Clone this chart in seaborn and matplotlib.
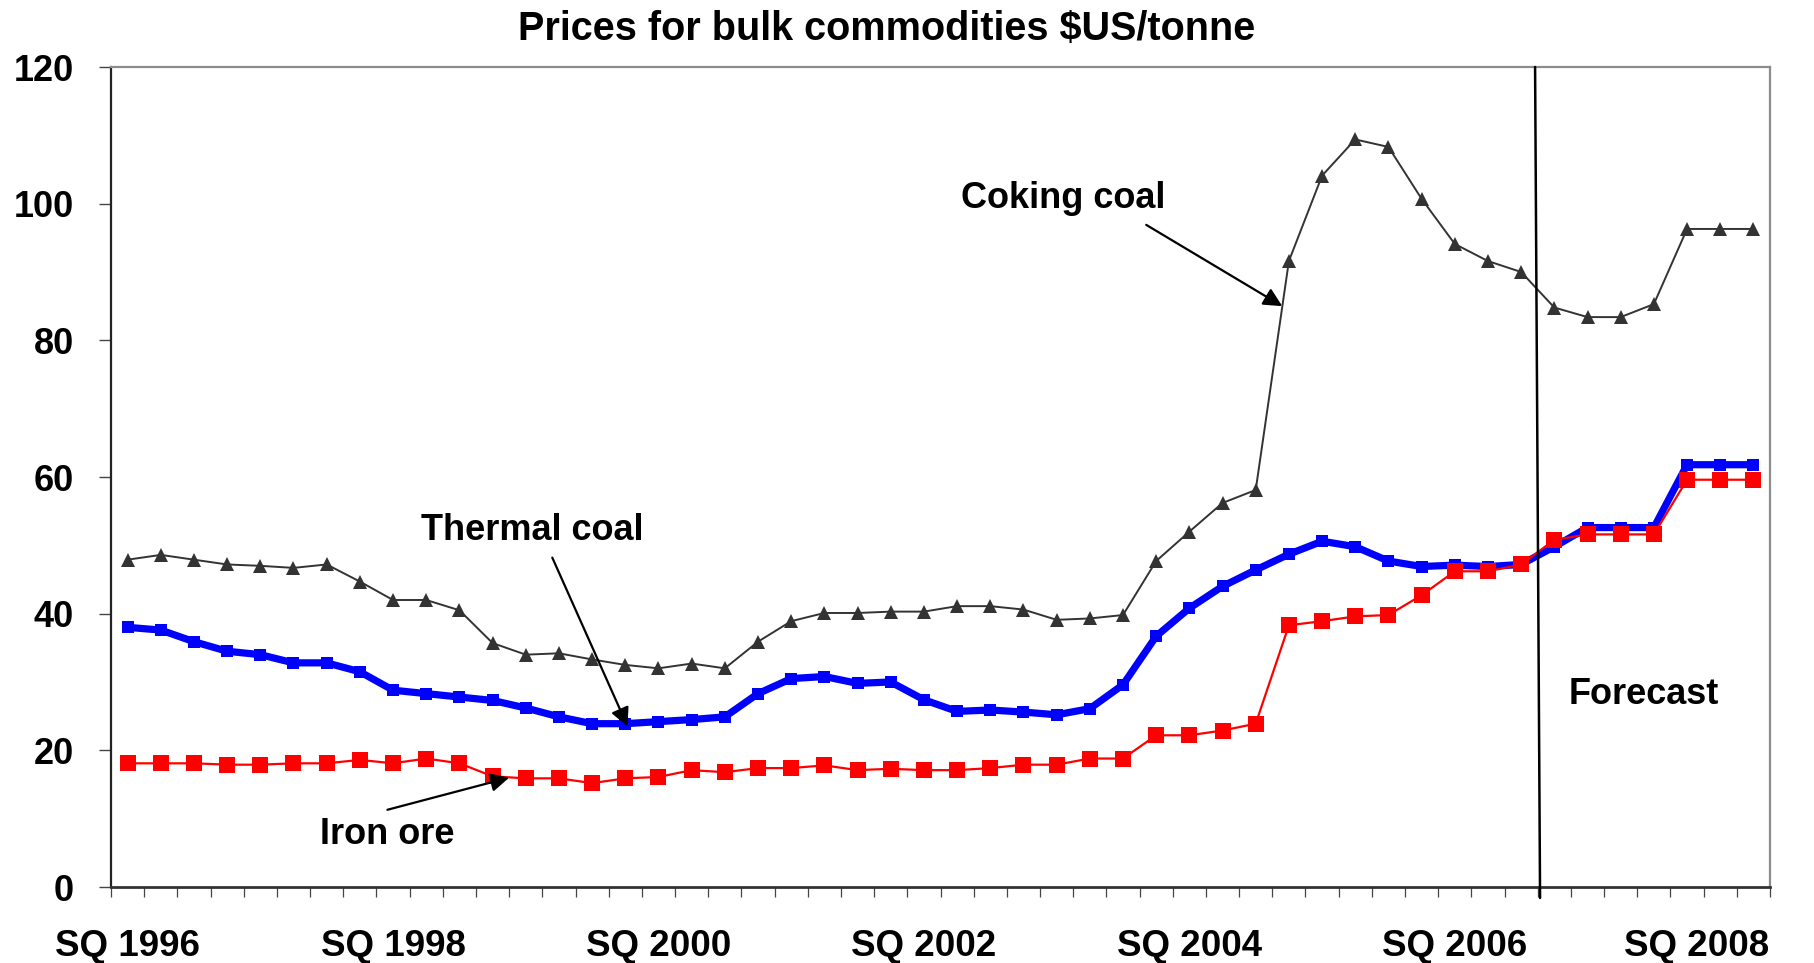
import matplotlib
matplotlib.use("Agg")
import matplotlib.pyplot as plt
import matplotlib.transforms as mtransforms
import seaborn as sns
import pandas as pd
import numpy as np

# ---------------- data ----------------
quarters = [
    "SQ 1996", "DQ 1996", "MQ 1997", "JQ 1997", "SQ 1997", "DQ 1997", "MQ 1998", "JQ 1998",
    "SQ 1998", "DQ 1998", "MQ 1999", "JQ 1999", "SQ 1999", "DQ 1999", "MQ 2000", "JQ 2000",
    "SQ 2000", "DQ 2000", "MQ 2001", "JQ 2001", "SQ 2001", "DQ 2001", "MQ 2002", "JQ 2002",
    "SQ 2002", "DQ 2002", "MQ 2003", "JQ 2003", "SQ 2003", "DQ 2003", "MQ 2004", "JQ 2004",
    "SQ 2004", "DQ 2004", "MQ 2005", "JQ 2005", "SQ 2005", "DQ 2005", "MQ 2006", "JQ 2006",
    "SQ 2006", "DQ 2006", "MQ 2007", "JQ 2007", "SQ 2007", "DQ 2007", "MQ 2008", "JQ 2008",
    "SQ 2008", "DQ 2008",
]

coking_coal = [
    47.9, 48.6, 47.9, 47.2, 47.0, 46.7, 47.2, 44.7, 42.0, 42.0,
    40.5, 35.7, 34.0, 34.2, 33.3, 32.5, 32.0, 32.7, 32.0, 35.9,
    38.9, 40.1, 40.1, 40.3, 40.3, 41.1, 41.1, 40.6, 39.1, 39.3,
    39.8, 47.7, 52.0, 56.2, 58.1, 91.6, 104.1, 109.4, 108.3, 100.7,
    94.1, 91.6, 90.0, 84.8, 83.4, 83.4, 85.3, 96.3, 96.3, 96.3,
]

thermal_coal = [
    38.0, 37.6, 35.9, 34.5, 34.0, 32.8, 32.8, 31.5, 28.8, 28.3,
    27.8, 27.3, 26.2, 24.9, 23.9, 23.9, 24.2, 24.5, 24.9, 28.3,
    30.5, 30.8, 29.8, 30.0, 27.4, 25.7, 25.9, 25.6, 25.2, 26.1,
    29.6, 36.7, 40.8, 44.0, 46.4, 48.7, 50.6, 49.8, 47.7, 46.9,
    47.1, 46.9, 47.2, 49.8, 52.6, 52.6, 52.6, 61.8, 61.8, 61.8,
]

iron_ore = [
    18.1, 18.1, 18.1, 17.9, 17.9, 18.1, 18.1, 18.6, 18.1, 18.8,
    18.1, 16.2, 15.9, 15.9, 15.2, 15.9, 16.1, 17.1, 16.8, 17.4,
    17.4, 17.8, 17.1, 17.3, 17.1, 17.1, 17.4, 17.9, 17.9, 18.8,
    18.8, 22.2, 22.2, 22.9, 23.9, 38.3, 38.9, 39.6, 39.8, 42.7,
    46.2, 46.2, 47.2, 50.8, 51.6, 51.6, 51.6, 59.6, 59.6, 59.6,
]

label_quarters = ["SQ 1996", "SQ 1998", "SQ 2000", "SQ 2002", "SQ 2004", "SQ 2006", "SQ 2008"]
y_ticks = [0, 20, 40, 60, 80, 100, 120]

title = "Prices for bulk commodities $US/tonne"

# ---------------- frame ----------------
pos = list(range(len(quarters)))
df = pd.DataFrame({
    "pos": pos,
    "quarter": quarters,
    "Coking coal": coking_coal,
    "Thermal coal": thermal_coal,
    "Iron ore": iron_ore,
})

sns.set_style("ticks")
plt.rcParams["font.family"] = ["Liberation Sans", "DejaVu Sans"]
plt.rcParams["font.weight"] = "bold"
plt.rcParams["text.color"] = "black"
plt.rcParams["xtick.color"] = "black"
plt.rcParams["ytick.color"] = "black"
plt.rcParams["xtick.labelcolor"] = "black"
plt.rcParams["ytick.labelcolor"] = "black"

W, H = 1814, 963
fig = plt.figure(figsize=(W / 100, H / 100), dpi=100)
ax = fig.add_axes([111 / W, 1 - 887 / H, (1770 - 111) / W, (887 - 67) / H])

sns.lineplot(data=df, x="pos", y="Thermal coal", ax=ax, color="#0000FF", lw=5.2,
             marker="s", markersize=9, markeredgewidth=0, zorder=3)
sns.lineplot(data=df, x="pos", y="Iron ore", ax=ax, color="#FF0000", lw=1.6,
             marker="s", markersize=11.5, markeredgewidth=0, zorder=4)
sns.lineplot(data=df, x="pos", y="Coking coal", ax=ax, color="#333333", lw=1.4,
             marker="^", markersize=9.5, markeredgewidth=0, zorder=5)

ax.set_xlim(-0.5, len(quarters) - 0.5)
ax.set_ylim(0, 120)
ax.set_xlabel("")
ax.set_ylabel("")

# y axis
ax.set_yticks(y_ticks)
ax.set_yticklabels([str(v) for v in y_ticks])
ax.tick_params(axis="y", which="major", length=8.6, width=1.0, pad=18,
               labelsize=26, color="#444444", labelcolor="black", direction="out")

# x axis: ticks at category boundaries, labels at SQ quarters
ax.set_xticks(np.arange(-0.5, len(quarters), 1.0))
ax.set_xticklabels([])
label_pos = [quarters.index(q) for q in label_quarters]
ax.set_xticks(label_pos, minor=True)
ax.set_xticklabels(label_quarters, minor=True)
ax.tick_params(axis="x", which="major", length=7.5, width=0.9, color="#444444", direction="out")
ax.tick_params(axis="x", which="minor", length=0, pad=30, labelsize=26.5, labelcolor="black")
for lab in ax.get_xticklabels(minor=True) + ax.get_yticklabels():
    lab.set_fontweight("bold")

for side in ["top", "right"]:
    ax.spines[side].set_color("#8c8c8c")
    ax.spines[side].set_linewidth(1.6)
ax.spines["left"].set_color("#222222")
ax.spines["left"].set_linewidth(1.6)
ax.spines["bottom"].set_color("#333333")
ax.spines["bottom"].set_linewidth(2.0)

# forecast divider
fc_top, fc_bottom = 42.42, 42.57
ax.plot([fc_top, fc_bottom], [120, -1.6], color="black", lw=1.8, clip_on=False, zorder=6)
ax.text(45.7, 28.2, "Forecast", ha="center", va="center", fontsize=26, fontweight="bold",
        color="black")

# annotations
arrow = dict(arrowstyle="-|>", color="black", lw=1.6, mutation_scale=28, shrinkA=0, shrinkB=0)
ax.text(28.2, 100.8, "Coking coal", ha="center", va="center", fontsize=26, fontweight="bold",
        color="black")
ax.annotate("", xy=(34.8, 85.0), xytext=(30.7, 96.9), arrowprops=arrow, zorder=7)

ax.text(12.2, 52.1, "Thermal coal", ha="center", va="center", fontsize=26, fontweight="bold",
        color="black")
ax.annotate("", xy=(15.07, 23.5), xytext=(12.8, 48.2), arrowprops=arrow, zorder=7)

ax.text(7.83, 7.75, "Iron ore", ha="center", va="center", fontsize=26, fontweight="bold",
        color="black")
ax.annotate("", xy=(11.5, 16.0), xytext=(7.83, 11.3), arrowprops=arrow, zorder=7)

fig.text(887 / W, 1 - 29 / H, title, ha="center", va="center", fontsize=28.5, fontweight="bold",
         color="black")

fig.canvas.draw()
last = ax.xaxis.get_minor_ticks()[-1]
last.label1.set_transform(last.label1.get_transform() +
                          mtransforms.ScaledTranslation(-0.24, 0, fig.dpi_scale_trans))

fig.savefig("out.png", dpi=100, facecolor="white")
